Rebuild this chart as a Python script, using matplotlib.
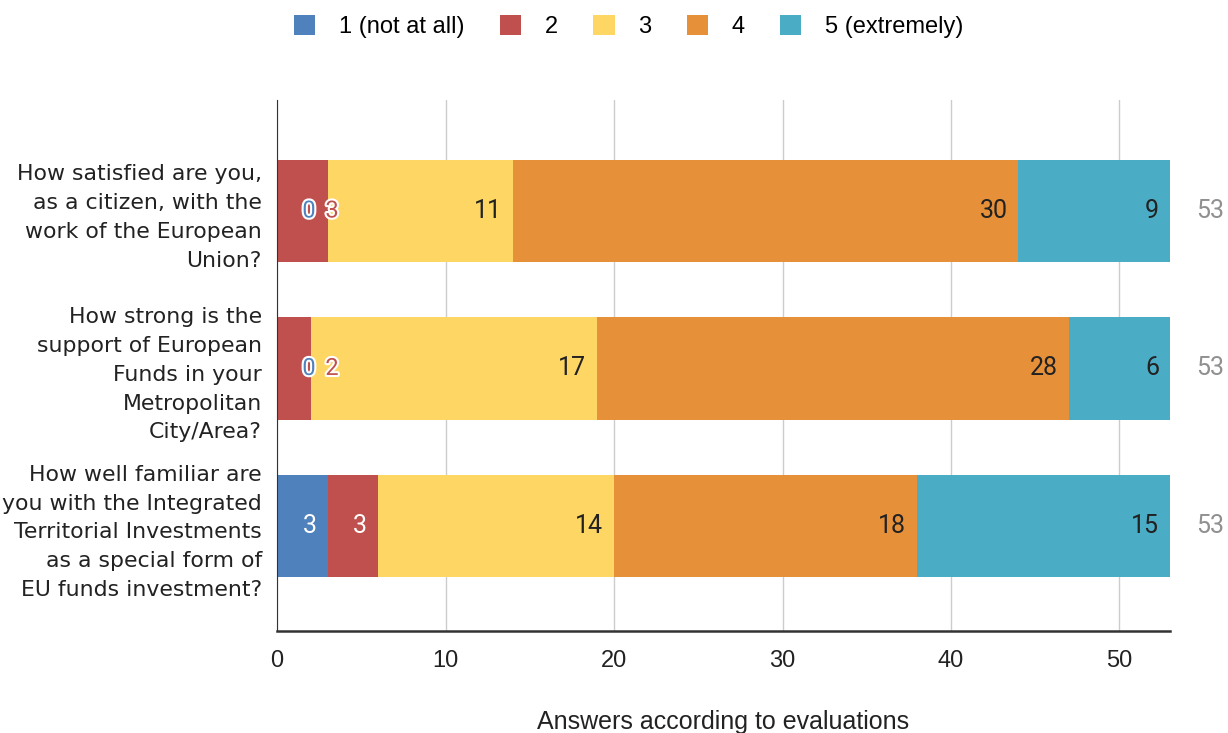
import numpy as np
import matplotlib
matplotlib.use('Agg')
import matplotlib.pyplot as plt
import matplotlib.patheffects as pe

plt.rcParams['font.family'] = ['Liberation Sans', 'DejaVu Sans']

questions = [
    'How satisfied are you,\nas a citizen, with the\nwork of the European\nUnion?',
    'How strong is the\nsupport of European\nFunds in your\nMetropolitan\nCity/Area?',
    'How well familiar are\nyou with the Integrated\nTerritorial Investments\nas a special form of\nEU funds investment?',
]
series_names = ['1 (not at all)', '2', '3', '4', '5 (extremely)']
values = [
    [0, 0, 3],      # 1 (not at all)
    [3, 2, 3],      # 2
    [11, 17, 14],   # 3
    [30, 28, 18],   # 4
    [9, 6, 15],     # 5 (extremely)
]
colors = ['#4f81bd', '#c0504d', '#fdd663', '#e6903a', '#4bacc6']
label_colors = ['white', 'white', '#222222', '#222222', '#222222']
xticks = [0, 10, 20, 30, 40, 50]

fig = plt.figure(figsize=(12.28, 7.33), dpi=100)
ax = fig.add_axes([0.2256, 0.1392, 0.7272, 0.7244])

y = np.arange(len(questions))
vals = np.array(values)
totals = vals.sum(axis=0)
left = np.zeros(len(questions))
for i, name in enumerate(series_names):
    ax.barh(y, vals[i], left=left, height=0.65, color=colors[i], label=name, zorder=2)
    for j in range(len(questions)):
        v = vals[i][j]
        end = left[j] + v
        if vals[0][j] == 0 and i < 2:
            # small segments: labels pushed out with halo
            off = 32 if i == 0 else 55
            ax.annotate(str(v), xy=(0, y[j]), xytext=(off, 0), textcoords='offset pixels',
                        ha='center', va='center', fontsize=17, color=colors[i], zorder=4,
                        family='Roboto',
                        path_effects=[pe.withStroke(linewidth=3, foreground='white')])
        elif v > 0:
            ax.annotate(str(v), xy=(end, y[j]), xytext=(-11, 0), textcoords='offset pixels',
                        ha='right', va='center', fontsize=18, color=label_colors[i], zorder=4,
                        family='Roboto')
    left = left + vals[i]

for j in range(len(questions)):
    ax.annotate(str(totals[j]), xy=(totals[j], y[j]), xytext=(26, 0), textcoords='offset pixels',
                ha='left', va='center', fontsize=18, color='#909090', annotation_clip=False,
                family='Roboto')

ax.set_xlim(0, 53)
ax.set_ylim(2.667, -0.705)
ax.set_xticks(xticks)
ax.set_yticks(y)
ax.set_yticklabels(questions, fontsize=15.8, color='#222222', linespacing=1.55,
                   family='DejaVu Sans')
ax.tick_params(axis='both', length=0, colors='#222222')
ax.tick_params(axis='x', pad=14, labelsize=17)
ax.tick_params(axis='y', pad=11)
ax.grid(axis='x', color='#cccccc', linewidth=1, zorder=0)
ax.set_axisbelow(True)
for s in ['top', 'right']:
    ax.spines[s].set_visible(False)
ax.spines['left'].set_color('#333333')
ax.spines['bottom'].set_color('#333333')
ax.spines['bottom'].set_linewidth(1.8)
ax.set_xlabel('Answers according to evaluations', fontsize=18, color='#222222', labelpad=27)

fig.legend(loc='upper center', bbox_to_anchor=(0.512, 1.008), ncol=5, frameon=False,
           fontsize=17, handlelength=0.9, handleheight=0.9, columnspacing=1.5, handletextpad=1.0)

fig.savefig('out.png', dpi=100)
